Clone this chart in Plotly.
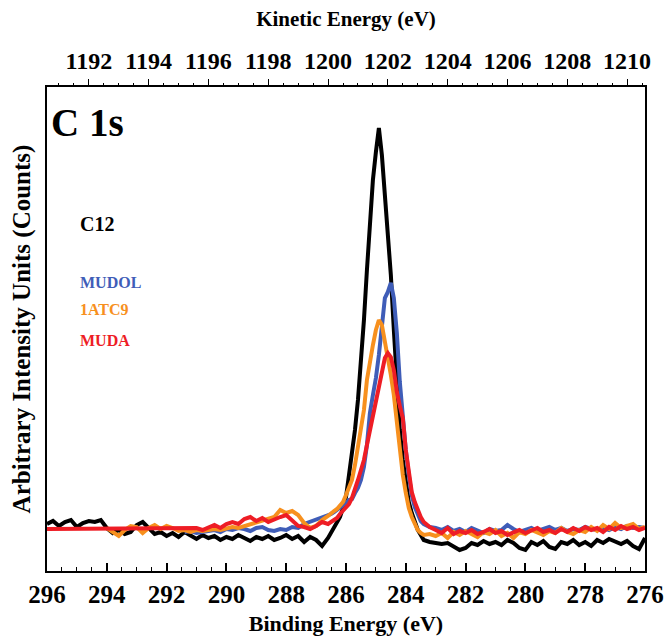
import plotly.graph_objects as go

PHOTON_ENERGY = 1486.6  # Al K-alpha, kinetic = hv - binding

binding_energy = [
    296.0, 295.8, 295.6, 295.4, 295.2, 295.0, 294.8, 294.6, 294.4, 294.2,
    294.0, 293.8, 293.6, 293.4, 293.2, 293.0, 292.8, 292.6, 292.4, 292.2,
    292.0, 291.8, 291.6, 291.4, 291.2, 291.0, 290.8, 290.6, 290.4, 290.2,
    290.0, 289.8, 289.6, 289.4, 289.2, 289.0, 288.8, 288.6, 288.4, 288.2,
    288.0, 287.8, 287.6, 287.4, 287.2, 287.0, 286.8, 286.6,
    286.5, 286.4, 286.3, 286.2, 286.1, 286.0, 285.9, 285.8, 285.7, 285.6,
    285.5, 285.4, 285.3, 285.2, 285.1, 285.0, 284.9, 284.8, 284.7, 284.6,
    284.5, 284.4, 284.3, 284.2, 284.1, 284.0, 283.9, 283.8, 283.7, 283.6,
    283.5, 283.4,
    283.2, 283.0, 282.8, 282.6, 282.4, 282.2, 282.0, 281.8, 281.6, 281.4,
    281.2, 281.0, 280.8, 280.6, 280.4, 280.2, 280.0, 279.8, 279.6, 279.4,
    279.2, 279.0, 278.8, 278.6, 278.4, 278.2, 278.0, 277.8, 277.6, 277.4,
    277.2, 277.0, 276.8, 276.6, 276.4, 276.2, 276.0,
]

c12 = [
    6, 9, 4, 8, 10, 3, 7, 9, 8, 10,
    2, -3, 0, -4, -2, 5, 8, 2, -4, -2,
    -6, -3, -7, -2, -6, -9, -5, -8, -6, -10,
    -7, -9, -5, -8, -11, -7, -9, -6, -10, -8,
    -5, -9, -6, -12, -7, -10, -16, -8,
    -3, 3, 8, 13, 22, 33, 55, 75, 100, 130,
    165, 210, 260, 313, 350, 378, 402, 375, 335, 295,
    255, 200, 140, 100, 70, 45, 28, 17, 8, 0,
    -5, -10,
    -12, -13, -14, -13, -16, -20, -18, -13, -15, -11,
    -14, -12, -15, -10, -13, -18, -20, -12, -15, -11,
    -17, -19, -12, -14, -10, -15, -12, -16, -10, -13,
    -9, -12, -14, -11, -16, -19, -8,
]

mudol = [
    None, None, None, None, None, None, None, None, None, None,
    None, None, None, None, None, None, None, None, None, None,
    None, None, None, -2, -1, -3, -2, -1, 0, -2,
    1, 0, 2, 1, -1, 2, 3, 0, -1, 1,
    0, 3, 2, 6, 8, 10, 12, 15,
    16, 18, 20, 23, 25, 27, 30, 31, 37, 42,
    50, 63, 85, 117, 135, 152, 175, 200, 232, 238,
    247, 232, 197, 148, 112, 80, 55, 35, 23, 15,
    9, 6,
    3, 2, 0, 3, -1, 1, -2, 2, 0, -3,
    1, -1, 0, 5, 1, -2, 0, 2, -1, 1,
    3, 0, 2, -1, 1, 0, 3, 1, 0, 2,
    0, 3, 1, 4, 2, 3, 2,
]

atc9 = [
    None, None, None, None, None, None, None, None, None, None,
    2, -2, -6, 0, 4, 3, -3, 2, 5, 1,
    4, 2, -1, 0, -2, 0, -1, 0, 1, 0,
    1, 3, 2, 4, 5, 7, 10, 12, 13, 20,
    17, 19, 15, 7, 2, 4, 10, 14,
    17, 19, 21, 24, 28, 35, 42, 50, 65, 83,
    100, 120, 150, 170, 185, 200, 210, 205, 190, 175,
    155, 135, 108, 83, 55, 37, 22, 13, 6, 0,
    -3, -5,
    -4, -6, -3, -8, -2, -5, -1, -4, -7, -2,
    -4, 0, -6, -3, -8, -2, -4, 0, -3, -5,
    -1, -3, 2, -2, -4, 0, -2, 3, -1, 5,
    1, 7, 2, 4, 6, 1, 3,
]

muda = [
    1, 1, 1, 1, 1, 1, 1, 1, 1, 1,
    1, 1, 1, 1, 1, 1, 1, 1, 1, 1,
    1, 1, 1, 1, 1, 2, 0, 3, 5, 2,
    6, 8, 6, 11, 13, 9, 12, 8, 11, 13,
    15, 10, 4, 3, 1, 4, 8, 6,
    8, 10, 12, 16, 19, 22, 26, 32, 40, 50,
    60, 70, 85, 100, 113, 128, 145, 160, 172, 177,
    173, 160, 138, 124, 112, 80, 55, 38, 28, 20,
    13, 8,
    3, 0, -3, 2, -4, -1, -3, 0, -4, -2,
    1, -3, -1, -5, -2, 0, -3, -1, 2, -2,
    0, -3, 1, -2, 2, -1, 3, 0, 2, -2,
    3, 0, 4, 1, 3, 0, 2,
]

series_names = ["C12", "MUDOL", "1ATC9", "MUDA"]
series_values = [c12, mudol, atc9, muda]
series_colors = ["#000000", "#3F5DB8", "#F7901E", "#EE1D25"]

bottom_ticks = [296, 294, 292, 290, 288, 286, 284, 282, 280, 278, 276]
top_ticks = [1192, 1194, 1196, 1198, 1200, 1202, 1204, 1206, 1208, 1210]

FONT = "Liberation Serif"

fig = go.Figure()
for name, vals, col in zip(series_names, series_values, series_colors):
    fig.add_trace(go.Scatter(
        x=binding_energy, y=vals, mode="lines", name=name,
        line=dict(color=col, width=4), showlegend=False,
    ))

kinetic = [PHOTON_ENERGY - b for b in binding_energy]
fig.add_trace(go.Scatter(
    x=kinetic, y=c12, xaxis="x2", mode="markers",
    marker=dict(opacity=0), showlegend=False, hoverinfo="skip",
))

fig.update_layout(
    width=665, height=636,
    margin=dict(l=47, r=20, t=87, b=65),
    paper_bgcolor="white", plot_bgcolor="white",
    font=dict(family=FONT, color="black"),
    xaxis=dict(
        range=[296, 276], tickvals=bottom_ticks, automargin=False,
        ticks="inside", ticklen=8, tickwidth=1.5, tickcolor="black",
        minor=dict(dtick=0.5, tick0=276, ticks="inside", ticklen=4, tickcolor="black", tickwidth=1),
        showline=True, linecolor="black", linewidth=1.5, mirror=True,
        showgrid=False, zeroline=False,
        ticklabeloverflow="allow",
        tickfont=dict(family=FONT, size=25, weight="bold"),
        title=dict(text="Binding Energy (eV)", font=dict(family=FONT, size=22, weight="bold"), standoff=10),
    ),
    xaxis2=dict(
        overlaying="x", side="top", automargin=False,
        range=[PHOTON_ENERGY - 296, PHOTON_ENERGY - 276], tickvals=top_ticks,
        ticks="outside", ticklen=7, tickwidth=1, tickcolor="black",
        minor=dict(dtick=0.5, tick0=1192, ticks="outside", ticklen=3, tickcolor="black", tickwidth=1),
        showline=False, showgrid=False, zeroline=False,
        ticklabeloverflow="allow",
        tickfont=dict(family=FONT, size=24, weight="bold"),
        title=dict(text="Kinetic Energy (eV)", font=dict(family=FONT, size=21, weight="bold"), standoff=16),
    ),
    yaxis=dict(
        range=[-41, 443], showticklabels=False, ticks="", automargin=False,
        showline=True, linecolor="black", linewidth=1.5, mirror=True,
        showgrid=False, zeroline=False,
        title=dict(text="Arbitrary Intensity Units (Counts)", font=dict(family=FONT, size=25, weight="bold"), standoff=8),
    ),
)

labels = [
    ("C 1s", 0.003, 0.926, 39, "#000000"),
    ("C12", 0.052, 0.717, 20, "#000000"),
    ("MUDOL", 0.052, 0.597, 16, series_colors[1]),
    ("1ATC9", 0.052, 0.541, 16, series_colors[2]),
    ("MUDA", 0.052, 0.477, 16, series_colors[3]),
]
for text, xp, yp, sz, col in labels:
    fig.add_annotation(
        x=xp, y=yp, xref="paper", yref="paper", text=text, showarrow=False,
        xanchor="left", yanchor="middle",
        font=dict(family=FONT, size=sz, color=col, weight="bold"),
    )

fig.write_html("out.html", config={"displayModeBar": False},
               post_script="document.body.style.margin='0px';")
